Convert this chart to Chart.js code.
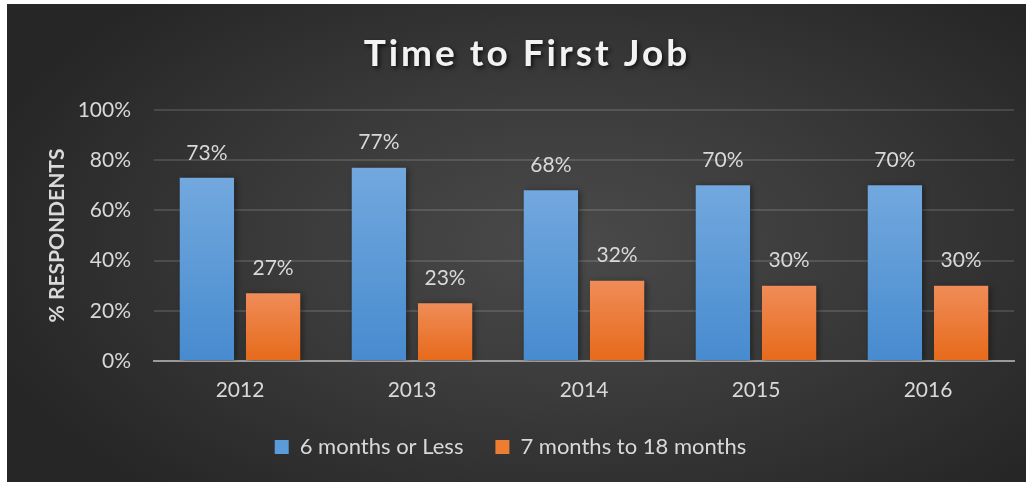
<!DOCTYPE html>
<html lang="en">
<head>
    <meta charset="UTF-8">
    <title>Time to First Job</title>
    <script src="https://cdn.jsdelivr.net/npm/chart.js"></script>
    <style>
        html, body { margin: 0; padding: 0; background: #fff; }
        #wrap {
            position: absolute; left: 7px; top: 4px; width: 1019px; height: 478px;
            background: radial-gradient(ellipse 60% 70% at 55% 50%, #4a4a4a 0%, #3b3b3b 45%, #262626 100%);
        }
    </style>
</head>
<body>
    <div id="wrap"><canvas id="jobChart" width="1019" height="478"></canvas></div>

    <script>
        // chart data
        const years = ['2012', '2013', '2014', '2015', '2016'];
        const sixMonthsOrLess = [73, 77, 68, 70, 70];
        const sevenToEighteen = [27, 23, 32, 30, 30];
        const seriesNames = ['6 months or Less', '7 months to 18 months'];

        const FONT = 'Lato, "Open Sans", sans-serif';
        const TEXT = '#d9d9d9';

        function barGradient(top, bottom) {
            return function (ctx) {
                const chart = ctx.chart;
                if (!chart.chartArea || ctx.raw === undefined) return bottom;
                const y = chart.scales.y.getPixelForValue(ctx.raw);
                const base = chart.scales.y.getPixelForValue(0);
                const g = chart.ctx.createLinearGradient(0, y, 0, base);
                g.addColorStop(0, top);
                g.addColorStop(1, bottom);
                return g;
            };
        }

        // title with letter spacing + shadow
        const titlePlugin = {
            id: 'bigTitle',
            afterDraw(chart) {
                const c = chart.ctx;
                c.save();
                c.font = 'bold 37px ' + FONT;
                c.letterSpacing = '3px';
                c.textAlign = 'center';
                c.textBaseline = 'middle';
                c.shadowColor = 'rgba(0,0,0,0.7)';
                c.shadowBlur = 4;
                c.shadowOffsetX = 2;
                c.shadowOffsetY = 2;
                c.fillStyle = '#f2f2f2';
                c.fillText('Time to First Job', 520, 50);
                c.restore();
            }
        };

        // bar shadows
        const shadowPlugin = {
            id: 'barShadow',
            beforeDatasetsDraw(chart) {
                const c = chart.ctx;
                c.save();
                c.shadowColor = 'rgba(0,0,0,0.45)';
                c.shadowBlur = 6;
                c.shadowOffsetX = 2;
                c.shadowOffsetY = 1;
            },
            afterDatasetsDraw(chart) {
                chart.ctx.restore();
            }
        };

        // value labels above bars
        const labelPlugin = {
            id: 'valueLabels',
            afterDatasetsDraw(chart) {
                const c = chart.ctx;
                c.save();
                c.font = '21px ' + FONT;
                c.fillStyle = TEXT;
                c.textAlign = 'center';
                c.textBaseline = 'middle';
                chart.data.datasets.forEach((ds, i) => {
                    chart.getDatasetMeta(i).data.forEach((bar, j) => {
                        c.fillText(ds.data[j] + '%', bar.x, bar.y - 25);
                    });
                });
                c.restore();
            }
        };

        new Chart(document.getElementById('jobChart'), {
            type: 'bar',
            data: {
                labels: years,
                datasets: [{
                    label: seriesNames[0],
                    data: sixMonthsOrLess,
                    backgroundColor: barGradient('#72a8de', '#478bcf'),
                    categoryPercentage: 0.77,
                    barPercentage: 0.82
                }, {
                    label: seriesNames[1],
                    data: sevenToEighteen,
                    backgroundColor: barGradient('#f08c58', '#e66a1a'),
                    categoryPercentage: 0.77,
                    barPercentage: 0.82
                }]
            },
            options: {
                responsive: false,
                animation: false,
                layout: { padding: { top: 106, right: 12, bottom: 14, left: 0 } },
                scales: {
                    x: {
                        grid: { display: false, drawTicks: false },
                        border: { color: '#9a9a9a', width: 2 },
                        ticks: { color: TEXT, font: { family: FONT, size: 21 }, padding: 17 },
                        afterFit(scale) { scale.height = 43; }
                    },
                    y: {
                        min: 0,
                        max: 100,
                        ticks: {
                            stepSize: 20,
                            color: TEXT,
                            font: { family: FONT, size: 21 },
                            padding: 23,
                            callback: v => v + '%'
                        },
                        grid: { color: 'rgba(255,255,255,0.13)', lineWidth: 2, drawTicks: false },
                        border: { display: false },
                        title: {
                            display: true,
                            text: '% RESPONDENTS',
                            color: TEXT,
                            font: { family: FONT, size: 21, weight: 'bold' },
                            padding: { top: 38, bottom: 0 }
                        },
                        afterFit(scale) { scale.width = 147; }
                    }
                },
                plugins: {
                    title: { display: false },
                    tooltip: { enabled: false },
                    legend: {
                        position: 'bottom',
                        labels: {
                            color: TEXT,
                            font: { family: FONT, size: 22 },
                            boxWidth: 14,
                            boxHeight: 14,
                            padding: 32,
                            generateLabels(chart) {
                                const cols = ['#5b9bd9', '#ed7d31'];
                                return chart.data.datasets.map((ds, i) => ({
                                    text: ds.label,
                                    fillStyle: cols[i],
                                    strokeStyle: cols[i],
                                    lineWidth: 0,
                                    fontColor: TEXT,
                                    datasetIndex: i
                                }));
                            }
                        }
                    }
                }
            },
            plugins: [shadowPlugin, labelPlugin, titlePlugin]
        });
    </script>
</body>
</html>
